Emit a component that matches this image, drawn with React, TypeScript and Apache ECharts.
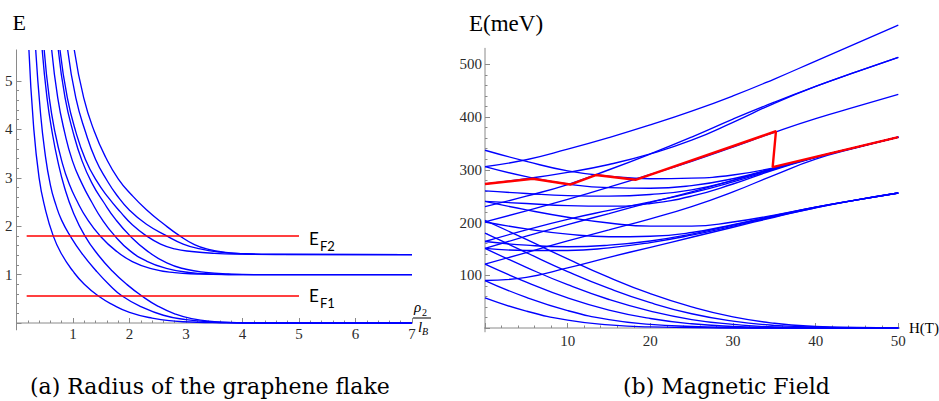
import React, { useEffect, useRef } from 'react';
import * as echarts from 'echarts';

const BLUE = '#0000ff';
const RED = '#ff0000';
const AXIS_GRAY = '#8a8a8a';
const TICK_TEXT = '#2b2b2b';
const SERIF = '"Liberation Serif", Times, serif';
const CAPTION_SERIF = '"DejaVu Serif", serif';
const SANS = 'Lato, sans-serif';

// ---- (a) levels of the flake against rho2 / l_B, sampled as [x, E] ----
const flakeToZeroA = [[0.22, 5.64], [0.3, 4.1], [0.4, 3.0], [0.5, 2.4], [0.65, 1.8], [0.8, 1.42], [1.0, 1.07], [1.2, 0.8], [1.45, 0.557], [1.7, 0.38], [2.0, 0.22], [2.4, 0.1], [2.8, 0.04], [3.2, 0.015], [3.6, 0.005], [4.0, 0], [7.0, 0]];
const flakeToZeroB = [[0.34, 5.64], [0.42, 4.4], [0.5, 3.55], [0.6, 2.85], [0.7, 2.43], [0.8, 2.12], [0.95, 1.8], [1.15, 1.45], [1.4, 1.09], [1.65, 0.78], [1.87, 0.557], [2.2, 0.34], [2.6, 0.16], [3.0, 0.07], [3.4, 0.025], [3.8, 0.007], [4.2, 0], [7.0, 0]];
const flakeToZeroC = [[0.455, 5.64], [0.54, 4.65], [0.63, 3.95], [0.73, 3.35], [0.85, 2.8], [1.0, 2.3], [1.21, 1.8], [1.45, 1.4], [1.7, 1.07], [1.95, 0.8], [2.22, 0.557], [2.5, 0.35], [2.8, 0.19], [3.1, 0.09], [3.5, 0.03], [3.9, 0.008], [4.4, 0], [7.0, 0]];
const flakeToOneA = [[0.49, 5.64], [0.58, 4.65], [0.68, 3.95], [0.8, 3.35], [0.93, 2.88], [1.08, 2.5], [1.25, 2.15], [1.48, 1.8], [1.75, 1.5], [2.05, 1.27], [2.4, 1.12], [2.8, 1.04], [3.2, 1.012], [3.7, 1.0], [7.0, 1.0]];
const flakeToOneB = [[0.623, 5.64], [0.73, 4.65], [0.85, 3.95], [0.99, 3.35], [1.15, 2.9], [1.33, 2.5], [1.52, 2.13], [1.74, 1.8], [2.0, 1.5], [2.3, 1.28], [2.65, 1.13], [3.05, 1.045], [3.5, 1.012], [4.0, 1.0], [7.0, 1.0]];
const flakeToOneC = [[0.74, 5.64], [0.86, 4.65], [1.0, 3.95], [1.16, 3.35], [1.34, 2.88], [1.54, 2.5], [1.76, 2.13], [2.01, 1.8], [2.3, 1.5], [2.66, 1.24], [3.0, 1.11], [3.35, 1.045], [3.75, 1.013], [4.2, 1.0], [7.0, 1.0]];
const flakeToRoot2A = [[0.77, 5.64], [0.9, 4.65], [1.05, 3.95], [1.22, 3.38], [1.41, 2.95], [1.62, 2.6], [1.85, 2.28], [2.05, 2.03], [2.3, 1.8], [2.55, 1.63], [2.8, 1.53], [3.1, 1.477], [3.5, 1.44], [4.0, 1.423], [4.6, 1.416], [7.0, 1.414]];
const flakeToRoot2B = [[0.906, 5.64], [1.05, 4.65], [1.22, 3.95], [1.4, 3.38], [1.6, 2.95], [1.773, 2.645], [2.0, 2.33], [2.3, 2.04], [2.66, 1.8], [2.95, 1.63], [3.25, 1.53], [3.6, 1.465], [4.0, 1.43], [4.5, 1.418], [7.0, 1.414]];
const flakeToRoot2C = [[1.023, 5.64], [1.19, 4.65], [1.38, 3.95], [1.58, 3.42], [1.8, 2.98], [2.039, 2.645], [2.3, 2.34], [2.6, 2.05], [2.89, 1.8], [3.15, 1.62], [3.4, 1.52], [3.7, 1.46], [4.05, 1.43], [4.5, 1.418], [7.0, 1.414]];

const flakeFermiLevels = [1.8, 0.557];
const flakeFermiSpan = [0.18, 5.0];

// ---- (b) levels against the field H (T), energies in meV at fieldSteps ----
const fieldSteps = [0, 5, 10, 15, 20, 25, 30, 35, 40, 45, 50];
const toFifthA = [306, 319, 339, 361, 385, 411, 440, 472, 506, 540, 574];
const toFourthA = [230, 250, 272, 300, 330, 362, 396, 428, 458, 486, 513];
const toFourthB = [273, 283, 295, 310, 330, 356, 390, 426, 458, 486, 513];
const toThirdA = [201, 222, 244, 267, 291, 316, 343, 371, 397, 420, 443];
const toSecondA = [337, 316, 298, 288, 283, 284, 290, 304, 324, 343, 362];
const toSecondB = [306, 287, 273, 266, 265, 270, 283, 303, 324, 343, 362];
const toSecondC = [260, 255, 251, 250, 253, 262, 280, 302, 324, 343, 362];
const toSecondD = [240, 236, 232, 231, 236, 250, 273, 300, 323, 343, 362];
const toSecondE = [164, 186, 206, 223, 239, 256, 277, 301, 324, 343, 362];
const toSecondF = [121, 143, 165, 186, 207, 230, 258, 290, 320, 342, 362];
const toSecondG = [151, 174, 196, 217, 238, 258, 280, 303, 324, 343, 362];
const toFirstA = [90, 96, 114, 134, 153, 172, 191, 210, 228, 243, 256];
const toFirstC = [151, 147, 147, 152, 162, 176, 193, 211, 228, 243, 256];
const toFirstD = [164, 157, 154, 157, 165, 178, 195, 212, 229, 243, 256];
const toFirstE = [201, 188, 178, 173, 174, 181, 196, 213, 229, 243, 256];
const toFirstF = [240, 224, 210, 199, 193, 193, 201, 214, 229, 243, 256];
const toZeroA = [57, 32, 15, 6, 2, 1, 0, 0, 0, 0, 0];
const toZeroB = [90, 58, 33, 16, 7, 3, 1, 0, 0, 0, 0];
const toZeroC = [121, 87, 57, 34, 18, 8, 3, 1, 0, 0, 0];
const toZeroD = [151, 115, 82, 54, 32, 16, 7, 2, 1, 0, 0];
const toZeroE = [180, 143, 107, 75, 48, 27, 13, 5, 2, 0, 0];
const toZeroF = [204, 168, 131, 96, 65, 40, 21, 9, 3, 1, 0];

const fermiTrack = [[0, 273], [5.8, 283], [10.3, 272], [13.4, 290], [18.2, 281], [35.2, 373], [34.8, 305], [50, 362]];

// axis lines run a little past the labelled ranges
const flakeAxisX = [-0.12, 7.05];
const flakeAxisY = [-0.15, 5.65];
const fieldAxisX = [-1, 50.8];
const fieldAxisY = [-8, 531];

const flakeCurves = [flakeToZeroA, flakeToZeroB, flakeToZeroC, flakeToOneA, flakeToOneB, flakeToOneC, flakeToRoot2A, flakeToRoot2B, flakeToRoot2C];
const fieldCurves = [toFifthA, toFourthA, toFourthB, toThirdA, toSecondA, toSecondB, toSecondC, toSecondD, toSecondE, toSecondF, toSecondG, toFirstA, toFirstC, toFirstD, toFirstE, toFirstF, toZeroA, toZeroB, toZeroC, toZeroD, toZeroE, toZeroF];

function axisSeries(grid: number, data: number[][]) {
  return {
    type: 'line', xAxisIndex: grid, yAxisIndex: grid, data, symbol: 'none', clip: false, silent: true,
    lineStyle: { color: AXIS_GRAY, width: 1 }, z: 1,
  };
}

function curveSeries(grid: number, data: number[][], color: string, width: number, smooth: boolean) {
  return {
    type: 'line', xAxisIndex: grid, yAxisIndex: grid, data, symbol: 'none', clip: false, silent: true,
    smooth, lineStyle: { color, width }, z: 2,
  };
}

function valueAxis(grid: number, max: number, interval: number, margin: number) {
  return {
    type: 'value', gridIndex: grid, min: 0, max, interval,
    axisLine: { show: false },
    axisTick: { show: true, inside: true, length: 5, lineStyle: { color: AXIS_GRAY } },
    minorTick: { show: true, splitNumber: 5, length: 2.5, lineStyle: { color: AXIS_GRAY } },
    splitLine: { show: false },
    minorSplitLine: { show: false },
    axisLabel: {
      margin, color: TICK_TEXT, fontFamily: SERIF, fontSize: 15,
      formatter: (v: number) => (v === 0 ? '' : String(v)),
    },
  };
}

function label(text: string, x: number, y: number, size: number, family: string, extra: any = {}) {
  return {
    type: 'text', x, y, silent: true,
    style: {
      text, fontSize: size, fontFamily: family, fill: '#000',
      align: 'left', verticalAlign: 'middle', textAlign: 'left', textVerticalAlign: 'middle', ...extra,
    },
  };
}

export default function App() {
  const ref = useRef<HTMLDivElement>(null);

  useEffect(() => {
    if (!ref.current) return;
    const chart = echarts.init(ref.current, null, { renderer: 'svg' });

    const series: any[] = [
      axisSeries(0, [[flakeAxisX[0], 0], [flakeAxisX[1], 0]]),
      axisSeries(0, [[0, flakeAxisY[0]], [0, flakeAxisY[1]]]),
      axisSeries(1, [[fieldAxisX[0], 0], [fieldAxisX[1], 0]]),
      axisSeries(1, [[0, fieldAxisY[0]], [0, fieldAxisY[1]]]),
    ];
    flakeCurves.forEach((c) => series.push(curveSeries(0, c, BLUE, 1.35, true)));
    flakeFermiLevels.forEach((e) =>
      series.push(curveSeries(0, [[flakeFermiSpan[0], e], [flakeFermiSpan[1], e]], RED, 1.5, false)));
    fieldCurves.forEach((c) =>
      series.push(curveSeries(1, fieldSteps.map((h, i) => [h, c[i]]), BLUE, 1.35, true)));
    series.push(curveSeries(1, fermiTrack, RED, 2.4, false));

    chart.setOption({
      animation: false,
      backgroundColor: '#fff',
      grid: [
        { left: 16.5, top: 81, width: 395.5, height: 242, outerBoundsMode: 'none' },
        { left: 485, top: 64.25, width: 413.3, height: 263.75, outerBoundsMode: 'none' },
      ],
      xAxis: [valueAxis(0, 7, 1, 3), valueAxis(1, 50, 10, 5)],
      yAxis: [valueAxis(0, 5, 1, 4), valueAxis(1, 500, 100, 3)],
      series,
      graphic: [
        label('E', 12.5, 22, 22, SERIF),
        label('E(meV)', 469, 23.5, 23, SERIF),
        label('H(T)', 909, 327.5, 15, SERIF),
        label('E', 309, 238.5, 17, SANS),
        label('F2', 320, 246, 13, SANS),
        label('E', 309, 295, 17, SANS),
        label('F1', 320, 302.5, 13, SANS),
        label('ρ', 414, 307, 15, SERIF, { fontStyle: 'italic' }),
        label('2', 422, 312, 10, SERIF),
        { type: 'line', silent: true, shape: { x1: 413, y1: 318, x2: 431, y2: 318 }, style: { stroke: '#000', lineWidth: 1 } },
        label('l', 418, 327, 15, SERIF, { fontStyle: 'italic' }),
        label('B', 422, 331, 10, SERIF, { fontStyle: 'italic' }),
        label('(a) Radius of the graphene flake', 30, 386, 22, CAPTION_SERIF),
        label('(b) Magnetic Field', 623, 386, 22, CAPTION_SERIF),
      ],
    });

    return () => chart.dispose();
  }, []);

  return <div ref={ref} style={{ position: 'absolute', left: 0, top: 0, width: 939, height: 401 }} />;
}
